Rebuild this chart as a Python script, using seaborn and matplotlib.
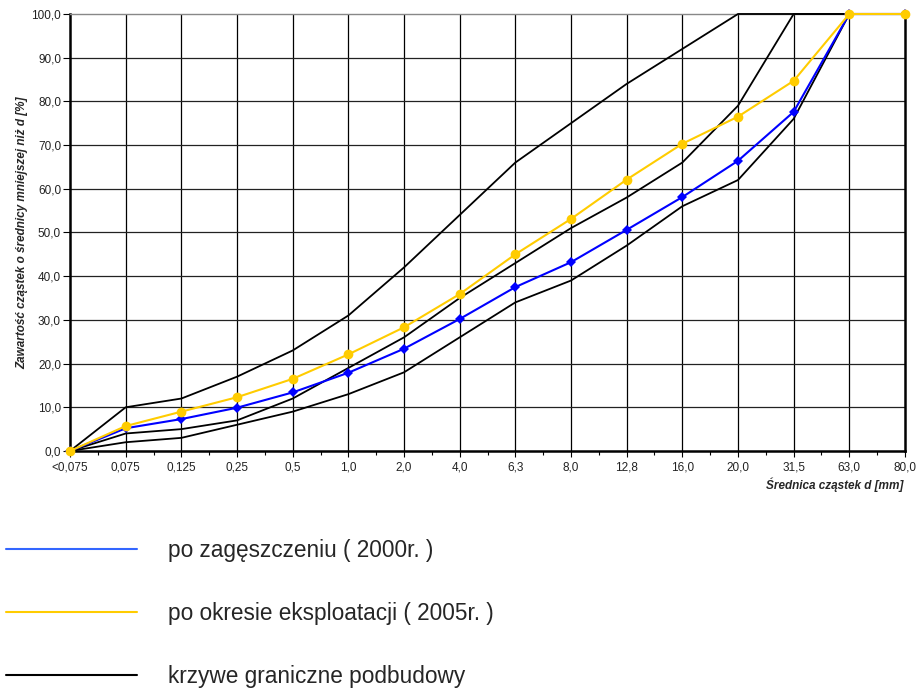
import matplotlib
matplotlib.use("Agg")
import matplotlib.pyplot as plt
from matplotlib.lines import Line2D
from matplotlib.ticker import FixedLocator, FuncFormatter
import numpy as np
import pandas as pd
import seaborn as sns

# Sieve sizes (categorical x axis)
sizes = ["<0,075", "0,075", "0,125", "0,25", "0,5", "1,0", "2,0", "4,0",
         "6,3", "8,0", "12,8", "16,0", "20,0", "31,5", "63,0", "80,0"]

# Grading curves: passing percentage
po_zageszczeniu = [0.0, 5.2, 7.3, 9.9, 13.4, 17.9, 23.4, 30.2,
                   37.5, 43.2, 50.6, 58.1, 66.4, 77.6, 100.0, 100.0]
po_eksploatacji = [0.0, 5.7, 9.0, 12.3, 16.5, 22.1, 28.3, 35.9,
                   45.0, 53.1, 62.1, 70.3, 76.5, 84.7, 100.0, 100.0]

# Boundary curves of the base course
granica_gorna = [0, 10, 12, 17, 23, 31, 42, 54, 66, 75, 84, 92, 100, 100, 100, 100]
granica_srodkowa = [0, 4, 5, 7, 12, 19, 26, 35, 43, 51, 58, 66, 79, 100, 100, 100]
granica_dolna = [0, 2, 3, 6, 9, 13, 18, 26, 34, 39, 47, 56, 62, 76, 100, 100]

legend_labels = ["po zagęszczeniu ( 2000r. )",
                 "po okresie eksploatacji ( 2005r. )",
                 "krzywe graniczne podbudowy"]

sns.set_theme(style="white")
plt.rcParams["font.family"] = ["Liberation Sans", "DejaVu Sans"]

pos = np.arange(len(sizes))
df = pd.DataFrame({
    "pos": pos,
    "zag": po_zageszczeniu,
    "eks": po_eksploatacji,
    "g1": granica_gorna,
    "g2": granica_srodkowa,
    "g3": granica_dolna,
})

fig = plt.figure(figsize=(9.18, 6.92), dpi=100)
ax = fig.add_axes([0.0763, 0.3483, 0.9095, 0.6315])

for col in ["g1", "g2", "g3"]:
    sns.lineplot(data=df, x="pos", y=col, ax=ax, color="black", lw=1.3,
                 sort=False, zorder=3, clip_on=False)
sns.lineplot(data=df, x="pos", y="zag", ax=ax, color="#0000FF", lw=1.5,
             marker="D", markersize=5.5, markeredgewidth=0, sort=False,
             zorder=4, clip_on=False)
sns.lineplot(data=df, x="pos", y="eks", ax=ax, color="#FFCC00", lw=1.5,
             marker="o", markersize=7, markeredgewidth=0, sort=False,
             zorder=5, clip_on=False)

ax.set_xlim(0, len(sizes) - 1)
ax.set_ylim(0, 100)
ax.xaxis.set_major_locator(FixedLocator(pos))
ax.xaxis.set_minor_locator(FixedLocator(pos[:-1] + 0.5))
ax.set_xticklabels(sizes)
ax.yaxis.set_major_locator(FixedLocator(np.arange(0, 101, 10)))
ax.yaxis.set_major_formatter(FuncFormatter(lambda v, p: f"{v:.1f}".replace(".", ",")))

ax.grid(False)
for p in pos[1:-1]:
    ax.axvline(p, color="black", lw=0.9, zorder=1)
for v in range(10, 100, 10):
    ax.axhline(v, color="#222222", lw=0.9, zorder=1)

for side in ["left", "bottom", "right"]:
    ax.spines[side].set_color("black")
    ax.spines[side].set_linewidth(1.8)
ax.spines["top"].set_color("#888888")
ax.spines["top"].set_linewidth(1.0)

ax.tick_params(axis="x", which="major", direction="out", length=4,
               width=0.8, color="black", labelsize=8.5, pad=3.5, bottom=True,
               labelcolor="#222222")
ax.tick_params(axis="x", which="minor", direction="out", length=3,
               width=0.8, color="black", bottom=True)
ax.tick_params(axis="y", which="major", direction="out", length=5,
               width=0.8, color="black", labelsize=8.5, pad=1.5, left=True,
               labelcolor="#222222")

ax.set_xlabel("Średnica cząstek d [mm]", fontsize=8.5, fontweight="bold",
              fontstyle="italic")
ax.xaxis.label.set(horizontalalignment="right", verticalalignment="center")
ax.xaxis.set_label_coords(0.9975, -0.078)
ax.set_ylabel("Zawartość cząstek o średnicy mniejszej niż d [%]", fontsize=8.5,
              fontweight="bold", fontstyle="italic")
ax.yaxis.label.set(verticalalignment="center")
ax.yaxis.set_label_coords(-0.0575, 0.5)

handles = [Line2D([], [], color="#3366FF", lw=1.5),
           Line2D([], [], color="#FFCC00", lw=1.5),
           Line2D([], [], color="black", lw=1.5)]
fig.legend(handles, legend_labels, loc="upper left",
           bbox_to_anchor=(0.0065, 0.221), frameon=False, fontsize=16.3,
           handlelength=5.8, handletextpad=1.35, labelspacing=1.76,
           borderaxespad=0, borderpad=0)

fig.savefig("out.png", dpi=100)
